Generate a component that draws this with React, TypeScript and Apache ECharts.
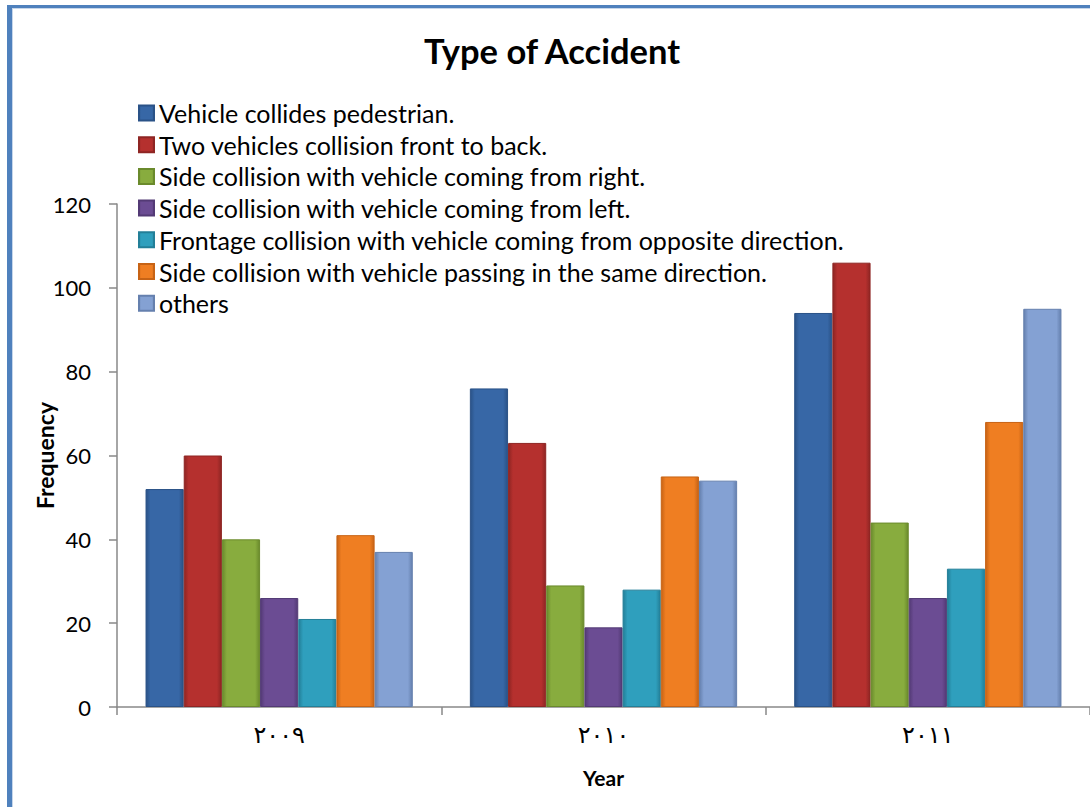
import React, { useEffect, useRef } from "react";
import * as echarts from "echarts";

const title = "Type of Accident";
const categories = ["\u0662\u0660\u0660\u0669", "\u0662\u0660\u0661\u0660", "\u0662\u0660\u0661\u0661"];
const seriesNames = [
  "Vehicle collides pedestrian.",
  "Two vehicles collision front to back.",
  "Side collision with vehicle coming from right.",
  "Side collision with vehicle coming from left.",
  "Frontage collision with vehicle coming from opposite direction.",
  "Side collision with vehicle passing in the same direction.",
  "others",
];
const pedestrian = [52, 76, 94];
const frontToBack = [60, 63, 106];
const fromRight = [40, 29, 44];
const fromLeft = [26, 19, 26];
const frontage = [21, 28, 33];
const sameDirection = [41, 55, 68];
const others = [37, 54, 95];
const seriesValues = [pedestrian, frontToBack, fromRight, fromLeft, frontage, sameDirection, others];
const yTicks = { min: 0, max: 120, interval: 20 };

const baseColors = ["#3767A6", "#B5302E", "#88AC3E", "#6B4C93", "#2F9FBD", "#EF7E22", "#84A1D3"];
const edgeColors = ["#2A5287", "#8E2523", "#6A8A2C", "#533A75", "#237F98", "#C76315", "#6580AE"];

function grad(i: number) {
  return new echarts.graphic.LinearGradient(0, 0, 1, 0, [
    { offset: 0, color: edgeColors[i] },
    { offset: 0.12, color: baseColors[i] },
    { offset: 0.88, color: baseColors[i] },
    { offset: 1, color: edgeColors[i] },
  ]);
}

export default function App() {
  const ref = useRef<HTMLDivElement>(null);
  useEffect(() => {
    if (!ref.current) return;
    const chart = echarts.init(ref.current, null, { renderer: "svg" });
    const font = "Lato";
    chart.setOption({
      animation: false,
      backgroundColor: "#ffffff",
      title: {
        text: title,
        left: 552,
        top: 33,
        padding: 0,
        textAlign: "center",
        textStyle: { fontFamily: font, fontWeight: "bold", fontSize: 34.5, color: "#000" },
      },
      legend: {
        orient: "vertical",
        left: 138,
        top: 100.5,
        padding: 0,
        itemWidth: 15,
        itemHeight: 15,
        itemGap: 6.7,
        icon: "rect",
        textStyle: { fontFamily: font, fontSize: 25, color: "#000", lineHeight: 25 },
        data: seriesNames,
      },
      graphic: [
        { type: "rect", shape: { x: 7, y: 5, width: 5, height: 810 }, style: { fill: "#4F81BD" }, z: 100 },
        { type: "rect", shape: { x: 7, y: 5, width: 1090, height: 3 }, style: { fill: "#4F81BD" }, z: 100 },
        { type: "rect", shape: { x: 12, y: 8, width: 1, height: 810 }, style: { fill: "#C6D6EA" }, z: 100 },
        { type: "rect", shape: { x: 12, y: 8, width: 1090, height: 1 }, style: { fill: "#C6D6EA" }, z: 100 },
      ],
      grid: { left: 117, top: 204, width: 979.5, height: 503 },
      xAxis: {
        type: "category",
        data: categories,
        name: "Year",
        nameLocation: "middle",
        nameGap: 60,
        nameMoveOverlap: false,
        nameTextStyle: { fontFamily: font, fontWeight: "bold", fontSize: 21, color: "#000" },
        axisLine: { lineStyle: { color: "#898989", width: 1.5 } },
        axisTick: { show: true, length: 8, lineStyle: { color: "#898989", width: 1.5 } },
        axisLabel: { fontFamily: "DejaVu Sans", fontSize: 24, color: "#000", margin: 16 },
      },
      yAxis: {
        type: "value",
        min: yTicks.min,
        max: yTicks.max,
        interval: yTicks.interval,
        name: "Frequency",
        nameLocation: "middle",
        nameGap: 61,
        nameMoveOverlap: false,
        nameRotate: 90,
        nameTextStyle: { fontFamily: font, fontWeight: "bold", fontSize: 23, color: "#000" },
        splitLine: { show: false },
        axisLine: { show: true, lineStyle: { color: "#898989", width: 1.5 } },
        axisTick: { show: true, length: 8, lineStyle: { color: "#898989", width: 1.5 } },
        axisLabel: { fontFamily: font, fontSize: 22, color: "#000", margin: 26 },
      },
      series: seriesNames.map((name, i) => ({
        name,
        type: "bar",
        data: seriesValues[i],
        barGap: "0%",
        barCategoryGap: "17.6%",
        itemStyle: { color: grad(i), borderColor: edgeColors[i], borderWidth: 1 },
      })),
    });
    return () => chart.dispose();
  }, []);
  return (
    <div
      ref={ref}
      style={{ position: "absolute", left: 0, top: 0, width: 1090, height: 807 }}
    />
  );
}
